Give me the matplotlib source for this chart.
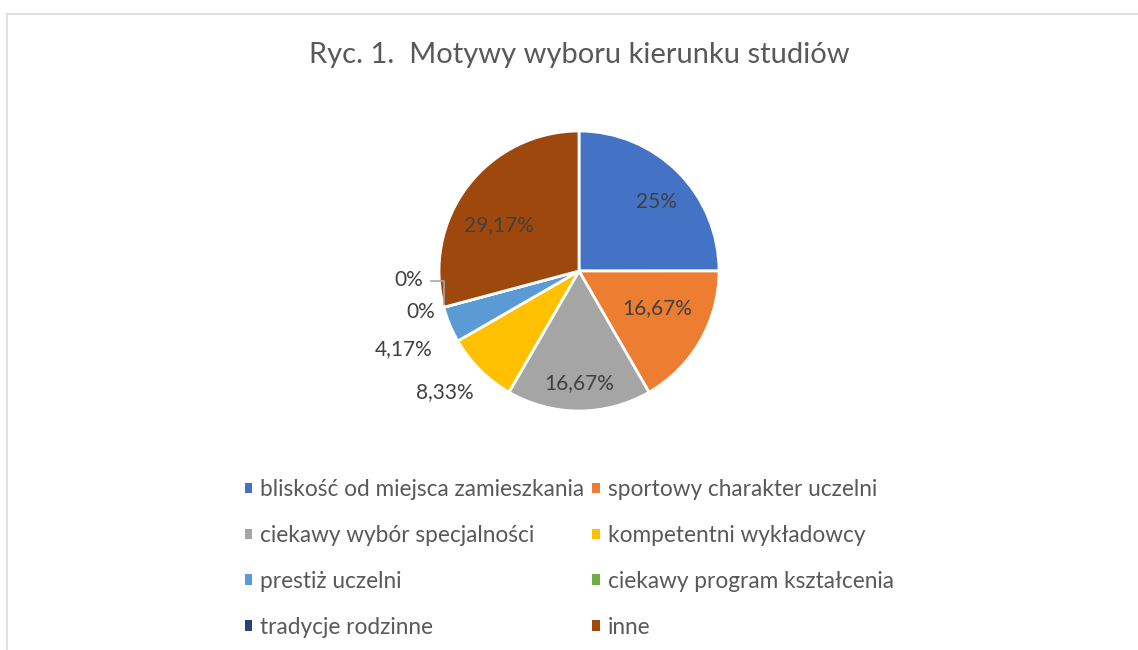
import numpy as np
import matplotlib.pyplot as plt
from matplotlib.patches import Patch
from matplotlib.lines import Line2D

plt.rcParams['font.family'] = ['Lato', 'DejaVu Sans']

# data
categories = ['bliskość od miejsca zamieszkania', 'sportowy charakter uczelni',
              'ciekawy wybór specjalności', 'kompetentni wykładowcy',
              'prestiż uczelni', 'ciekawy program kształcenia',
              'tradycje rodzinne', 'inne']
values = [25.0, 16.67, 16.67, 8.33, 4.17, 0.0, 0.0, 29.17]
value_labels = ['25%', '16,67%', '16,67%', '8,33%', '4,17%', '0%', '0%', '29,17%']
colors = ['#4472C4', '#ED7D31', '#A5A5A5', '#FFC000',
          '#5B9BD5', '#70AD47', '#264478', '#9E480E']

# label placement (radius factor, angle in degrees)
label_polar = [(0.74, 42), (0.62, -25), (0.80, -90), (1.29, -138),
               (1.37, -156), (1.165, -165.5), (1.215, -177), (0.66, 150)]

W, H = 1138, 650
fig = plt.figure(figsize=(W / 100, H / 100), dpi=100)

# outer frame (top and left edges only are visible)
fig.add_artist(Line2D([7 / W, 1], [1 - 13.5 / H, 1 - 13.5 / H], color='#D9D9D9', lw=1.2))
fig.add_artist(Line2D([7 / W, 7 / W], [0, 1 - 13.5 / H], color='#D9D9D9', lw=1.2))

fig.text(579 / W, 1 - 55 / H, 'Ryc. 1.  Motywy wyboru kierunku studiów',
         ha='center', va='center', fontsize=21, color='#595959')

# pie axes: center at (579, 271) px, radius 140 px
R = 140
half = 210
cx, cy = 579, H - 271
ax = fig.add_axes([(cx - half) / W, (cy - half) / H, 2 * half / W, 2 * half / H])
wedges, _ = ax.pie(values, colors=colors, startangle=90, counterclock=False,
                   radius=1, wedgeprops=dict(edgecolor='white', linewidth=2))
ax.set_xlim(-half / R, half / R)
ax.set_ylim(-half / R, half / R)
ax.set_aspect('auto')
ax.axis('off')

for lab, (r, ang) in zip(value_labels, label_polar):
    a = np.deg2rad(ang)
    ax.text(r * np.cos(a), r * np.sin(a), lab, ha='center', va='center',
            fontsize=15, color='#404040')

# leader line for the first 0% label
ea = np.deg2rad(-165)
ex, ey = np.cos(ea), np.sin(ea)
ly = np.sin(np.deg2rad(-177)) * 1.215
ax.plot([-1.055, ex, ex], [ly - 0.01, ly - 0.01, ey + 0.02], color='#A6A6A6', lw=1.2)

# legend, row-wise order like the original
order = [0, 2, 4, 6, 1, 3, 5, 7]
handles = [Patch(facecolor=colors[i], edgecolor='none', label=categories[i]) for i in order]
fig.legend(handles=handles, ncol=2, loc='upper left', bbox_to_anchor=(245 / W, 1 - 479 / H),
           frameon=False, fontsize=16.3, handlelength=0.33, handleheight=0.33,
           handletextpad=0.35, columnspacing=0.35, labelspacing=1.1,
           labelcolor='#595959', borderpad=0, borderaxespad=0)

fig.savefig('out.png', dpi=100)
